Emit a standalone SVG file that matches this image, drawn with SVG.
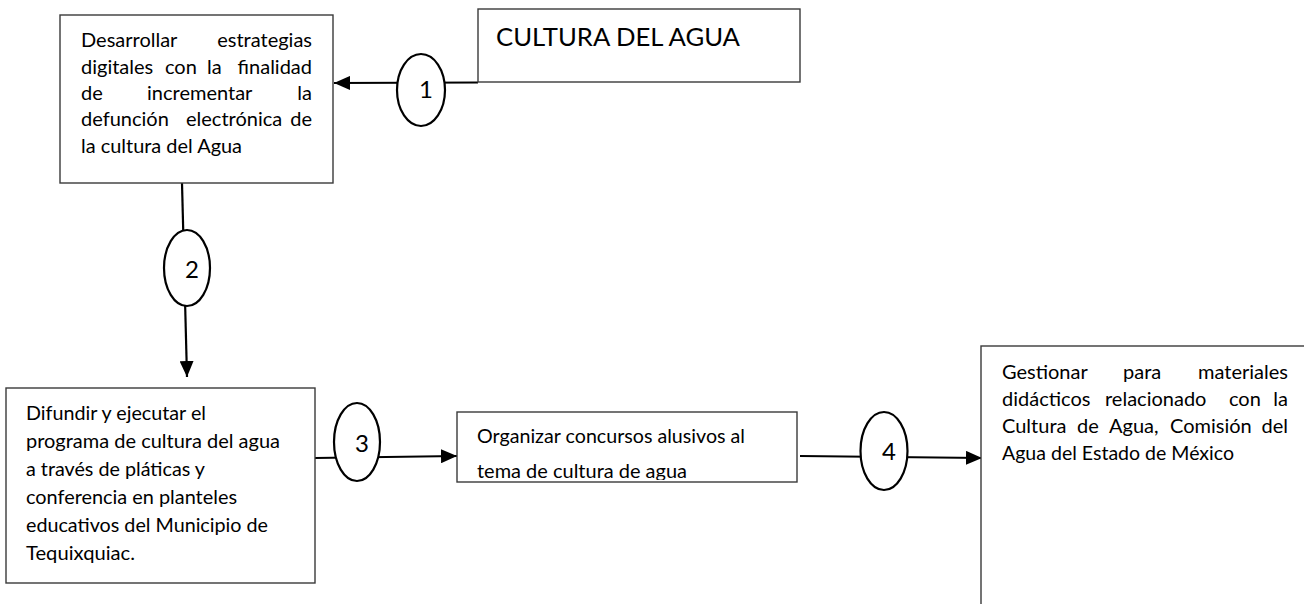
<svg xmlns="http://www.w3.org/2000/svg" width="1304" height="604" viewBox="0 0 1304 604">
<defs>
  <marker id="arr" viewBox="0 0 16 14" refX="16" refY="7" markerWidth="16" markerHeight="14" markerUnits="userSpaceOnUse" orient="auto">
    <path d="M0,0 L16,7 L0,14 Z" fill="#000"/>
  </marker>
  <clipPath id="clipC"><rect x="458" y="413" width="338" height="67"/></clipPath>
  <style>
    .box{fill:#fff;stroke:#3a3a3a;stroke-width:1.4}
    .conn{fill:none;stroke:#000;stroke-width:2.2}
    .oval{fill:#fff;stroke:#000;stroke-width:2.2}
    .t{font-family:Lato,"Open Sans","Liberation Sans",sans-serif;font-size:20px;fill:#000}
    .big{font-family:Lato,"Open Sans","Liberation Sans",sans-serif;font-size:25px;fill:#000}
    .num{font-family:Lato,"Open Sans","Liberation Sans",sans-serif;font-size:24px;fill:#000;text-anchor:middle}
    .e{text-anchor:end}
  </style>
</defs>
<rect width="1304" height="604" fill="#fff"/>

<g id="connectors">
  <line class="conn" x1="478" y1="82.5" x2="334" y2="83" marker-end="url(#arr)"/>
  <line class="conn" x1="182" y1="183" x2="187" y2="377" marker-end="url(#arr)"/>
  <line class="conn" x1="315" y1="458" x2="457" y2="456" marker-end="url(#arr)"/>
  <line class="conn" x1="800" y1="456" x2="982" y2="458" marker-end="url(#arr)"/>
</g>

<g id="node-cultura">
  <rect class="box" x="478" y="9" width="322" height="73"/>
  <text class="big" x="496" y="46" textLength="244" lengthAdjust="spacingAndGlyphs">CULTURA DEL AGUA</text>
</g>

<g id="node-desarrollar">
  <rect class="box" x="60" y="15" width="273" height="168"/>
  <text class="t" x="81" y="47">Desarrollar</text>
  <text class="t e" x="312" y="47">estrategias</text>
  <text class="t" x="81" y="74">digitales</text>
  <text class="t" x="165" y="74">con</text>
  <text class="t" x="207" y="74">la</text>
  <text class="t e" x="312" y="74">finalidad</text>
  <text class="t" x="81" y="100">de</text>
  <text class="t" x="147" y="100">incrementar</text>
  <text class="t e" x="312" y="100">la</text>
  <text class="t" x="81" y="126">defunción</text>
  <text class="t" x="186" y="126">electrónica</text>
  <text class="t e" x="312" y="126">de</text>
  <text class="t" x="81" y="153" textLength="161" lengthAdjust="spacingAndGlyphs">la cultura del Agua</text>
</g>

<g id="node-difundir">
  <rect class="box" x="6" y="388" width="309" height="195"/>
  <text class="t" x="26" y="420" textLength="180" lengthAdjust="spacingAndGlyphs">Difundir y ejecutar el</text>
  <text class="t" x="26" y="448" textLength="254" lengthAdjust="spacingAndGlyphs">programa de cultura del agua</text>
  <text class="t" x="26" y="476" textLength="179" lengthAdjust="spacingAndGlyphs">a través de pláticas y</text>
  <text class="t" x="26" y="504" textLength="211" lengthAdjust="spacingAndGlyphs">conferencia en planteles</text>
  <text class="t" x="26" y="532" textLength="242" lengthAdjust="spacingAndGlyphs">educativos del Municipio de</text>
  <text class="t" x="26" y="560" textLength="109" lengthAdjust="spacingAndGlyphs">Tequixquiac.</text>
</g>

<g id="node-organizar">
  <rect class="box" x="457" y="412" width="340" height="70"/>
  <g clip-path="url(#clipC)">
    <text class="t" x="477" y="443" textLength="268" lengthAdjust="spacingAndGlyphs">Organizar concursos alusivos al</text>
    <text class="t" x="477" y="478" textLength="210" lengthAdjust="spacingAndGlyphs">tema de cultura de agua</text>
  </g>
</g>

<g id="node-gestionar">
  <rect class="box" x="981" y="346" width="400" height="300"/>
  <text class="t" x="1002" y="379">Gestionar</text>
  <text class="t" x="1123" y="379">para</text>
  <text class="t e" x="1288" y="379">materiales</text>
  <text class="t" x="1002" y="406">didácticos</text>
  <text class="t" x="1105" y="406">relacionado</text>
  <text class="t" x="1229" y="406">con</text>
  <text class="t e" x="1288" y="406">la</text>
  <text class="t" x="1002" y="433">Cultura</text>
  <text class="t" x="1077" y="433">de</text>
  <text class="t" x="1109" y="433">Agua,</text>
  <text class="t" x="1170" y="433">Comisión</text>
  <text class="t e" x="1288" y="433">del</text>
  <text class="t" x="1002" y="460" textLength="232" lengthAdjust="spacingAndGlyphs">Agua del Estado de México</text>
</g>

<g id="step-1">
  <ellipse class="oval" cx="421" cy="90" rx="24" ry="36"/>
  <text class="num" x="426" y="98">1</text>
</g>
<g id="step-2">
  <ellipse class="oval" cx="187" cy="268" rx="23" ry="38"/>
  <text class="num" x="192" y="278">2</text>
</g>
<g id="step-3">
  <ellipse class="oval" cx="357" cy="442" rx="23" ry="39"/>
  <text class="num" x="362" y="452">3</text>
</g>
<g id="step-4">
  <ellipse class="oval" cx="884" cy="451" rx="23.5" ry="39"/>
  <text class="num" x="889" y="460">4</text>
</g>
</svg>
